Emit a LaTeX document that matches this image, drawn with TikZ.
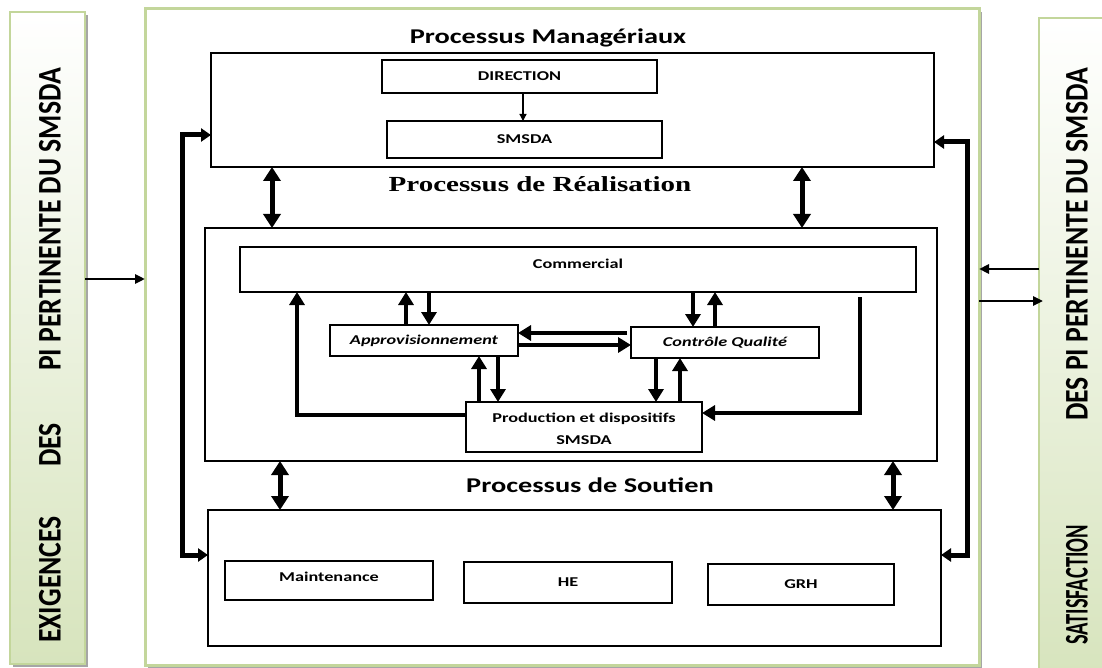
\documentclass[tikz,border=0pt]{standalone}
\usepackage{fontspec}
\usetikzlibrary{arrows.meta,shadows}
\newfontfamily\lab[FakeStretch=1.35]{Carlito}
\newfontfamily\ser[FakeStretch=1.35]{Liberation Serif}
\newfontfamily\sidef[FakeStretch=0.84]{Carlito}
\newfontfamily\sidec[FakeStretch=0.62]{Carlito}
\definecolor{barline}{HTML}{C3D69B}
\definecolor{barfill}{HTML}{D7E4BD}
\tikzset{
  sidebar/.style={draw=barline, line width=2pt, top color=white, bottom color=barfill,
    inner sep=0pt, outer sep=0pt,
    drop shadow={shadow xshift=3pt, shadow yshift=-3pt, fill=black!35, opacity=1}},
  frame/.style={draw=barline, line width=3pt, fill=white, inner sep=0pt, outer sep=0pt,
    drop shadow={shadow xshift=3pt, shadow yshift=-3pt, fill=black!35, opacity=1}},
  box/.style={draw=black, line width=1.2pt, fill=white, inner sep=0pt, outer sep=0pt},
  lbl/.style={font=\lab\bfseries\fontsize{13.5}{16}\selectfont, align=center},
  ilbl/.style={font=\lab\bfseries\itshape\fontsize{13.5}{16}\selectfont},
  title/.style={font=\lab\bfseries\fontsize{21}{24}\selectfont, anchor=base},
  stitle/.style={font=\ser\bfseries\fontsize{21.5}{24}\selectfont, anchor=base},
  sidetxt/.style={font=\sidef\bfseries\fontsize{33}{35}\selectfont, rotate=90, inner sep=0pt},
  thin/.style={line width=1.3pt, -{Triangle[length=7pt,width=7pt]}},
  inarr/.style={line width=2.5pt, -{Triangle[length=10pt,width=9pt]}},
  dbl/.style={line width=5pt, {Triangle[length=14pt,width=17pt]}-{Triangle[length=14pt,width=17pt]}},
  fb/.style={line width=5pt, line join=miter, {Triangle[length=10pt,width=13pt]}-{Triangle[length=10pt,width=13pt]}},
  ia/.style={line width=4.8pt, -{Triangle[length=13pt,width=15pt]}}
}
\begin{document}
\begin{tikzpicture}[x=1pt,y=-1pt]
\useasboundingbox (0,0) rectangle (1102,668);

% side bars and main frame
\node[sidebar, minimum width=75pt, minimum height=652pt] (lbar) at (47.5,338) {};
\node[sidebar, minimum width=80pt, minimum height=660pt] (rbar) at (1079,348) {};
\node[frame, minimum width=834pt, minimum height=656pt] (frame) at (562,337) {};

% side texts
\node[sidetxt, anchor=east] (l1) at (50,68) {PI PERTINENTE DU SMSDA};
\node[sidetxt] (l2) at (50,445) {DES};
\node[sidetxt, anchor=west] (l3) at (50,643) {EXIGENCES};
\node[sidetxt, anchor=east] (r1) at (1077,68) {DES PI PERTINENTE DU SMSDA};
\node[sidetxt, font=\sidec\bfseries\fontsize{33}{35}\selectfont, anchor=west] (r2) at (1077,645) {SATISFACTION};

% managerial processes
\node[title] (tman) at (548,44) {Processus Managériaux};
\node[box, minimum width=723pt, minimum height=114pt] (man) at (572.5,110) {};
\node[box, minimum width=275pt, minimum height=33pt, lbl] (dir) at (519.5,76.5) {DIRECTION};
\node[box, minimum width=275pt, minimum height=37pt, lbl] (sms) at (524.5,139.5) {SMSDA};
\draw[thin] (dir.south -| 523,0) -- (sms.north -| 523,0);

% realisation processes
\node[stitle] (treal) at (540,192) {Processus de Réalisation};
\node[box, minimum width=732pt, minimum height=233pt] (real) at (571,344.5) {};
\node[box, minimum width=676pt, minimum height=45pt] (com) at (578,269.5) {};
\node[lbl] (comt) at ([yshift=6pt]com.center) {Commercial};
\node[box, minimum width=188pt, minimum height=31pt, ilbl] (appro) at (424,340.5) {Approvisionnement};
\node[box, minimum width=188pt, minimum height=31pt, ilbl] (cq) at (725,342.5) {Contrôle Qualité};
\node[box, minimum width=236pt, minimum height=50pt] (prod) at (584,427) {};
\node[lbl, font=\lab\bfseries\fontsize{13.5}{22}\selectfont] (prodt) at ([yshift=-2pt]prod.center) {Production et dispositifs\\SMSDA};

% support processes
\node[title] (tsout) at (590,492) {Processus de Soutien};
\node[box, minimum width=733pt, minimum height=136pt] (sout) at (574.5,578) {};
\node[box, minimum width=208pt, minimum height=39pt] (mai) at (329,580.5) {};
\node[lbl] (mait) at ([yshift=4pt]mai.center) {Maintenance};
\node[box, minimum width=208pt, minimum height=41pt, lbl] (he) at (568,582.5) {HE};
\node[box, minimum width=186pt, minimum height=41pt, lbl] (grh) at (801,584.5) {GRH};

% links between process levels
\draw[dbl] (man.south -| 272,0) -- (real.north -| 272,0);
\draw[dbl] (man.south -| 802,0) -- (real.north -| 802,0);
\draw[dbl] (real.south -| 280,0) -- (sout.north -| 280,0);
\draw[dbl] (real.south -| 893,0) -- (sout.north -| 893,0);
\draw[fb] (man.west |- 0,135) -| (182,555) -- (sout.west |- 0,555);
\draw[fb] (man.east |- 0,142) -| (967,555) -- (sout.east |- 0,555);

% flows inside realisation
\draw[ia] (appro.north -| 406,0) -- (com.south -| 406,0);
\draw[ia] (com.south -| 429,0) -- (appro.north -| 429,0);
\draw[ia] (com.south -| 693,0) -- (cq.north -| 693,0);
\draw[ia] (cq.north -| 715,0) -- (com.south -| 715,0);
\draw[ia] ([xshift=-4pt]cq.west |- 0,333) -- (appro.east |- 0,333);
\draw[ia] (appro.east |- 0,345) -- (cq.west |- 0,345);
\draw[ia] (prod.north -| 479,0) -- (appro.south -| 479,0);
\draw[ia] (appro.south -| 498,0) -- (prod.north -| 498,0);
\draw[ia] (cq.south -| 656,0) -- (prod.north -| 656,0);
\draw[ia] (prod.north -| 680,0) -- (cq.south -| 680,0);
\draw[ia, line join=miter] (prod.west |- 0,415) -| (com.south -| 297,0);
\draw[ia, line join=miter, shorten <=5pt] (com.south -| 860,0) |- (prod.east |- 0,413);

% inputs and outputs
\draw[inarr] (lbar.east |- 0,279) -- (frame.west |- 0,279);
\draw[inarr] (rbar.west |- 0,269) -- (frame.east |- 0,269);
\draw[inarr] (frame.east |- 0,301) -- ([xshift=4pt]rbar.west |- 0,301);
\end{tikzpicture}
\end{document}
